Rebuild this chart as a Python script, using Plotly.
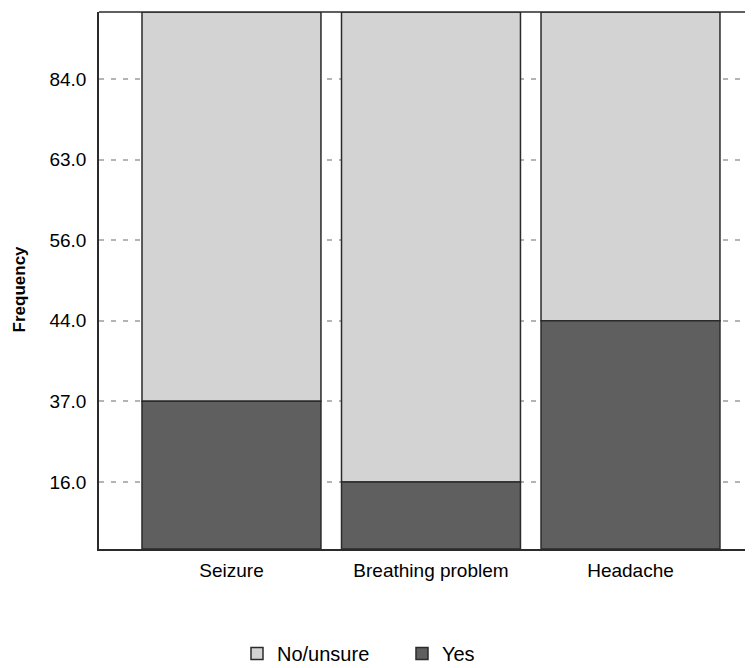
import numpy as np
import plotly.graph_objects as go

# ---- data ----
categories = ["Seizure", "Breathing problem", "Headache"]
yes_values = [37, 16, 44]
no_unsure_values = [63, 84, 56]
tick_values = [16, 37, 44, 56, 63, 84]
tick_labels = ["16.0", "37.0", "44.0", "56.0", "63.0", "84.0"]

# The reference axis is an ordinal scale: the labelled values sit at evenly
# spaced positions.  Map values to that display scale by interpolation.
n = len(tick_values)
scale_in = [0] + tick_values + [100]
scale_out = [0] + [12.5 + 15 * i for i in range(n)] + [100]


def pos(v):
    return np.interp(v, scale_in, scale_out)


yes_arr = np.array(yes_values, dtype=float)
tot_arr = yes_arr + np.array(no_unsure_values, dtype=float)
yes_h = pos(yes_arr)
no_h = pos(tot_arr) - pos(yes_arr)

FONT = "Liberation Sans, Arial, sans-serif"
outline = dict(color="#2b2b2b", width=1.5)

fig = go.Figure()
fig.add_trace(go.Bar(
    name="No/unsure", x=categories, y=no_h, base=yes_h,
    marker=dict(color="#d3d3d3", line=outline),
    customdata=no_unsure_values, hovertemplate="%{x}<br>No/unsure: %{customdata}<extra></extra>",
))
fig.add_trace(go.Bar(
    name="Yes", x=categories, y=yes_h,
    marker=dict(color="#5f5f5f", line=outline),
    customdata=yes_values, hovertemplate="%{x}<br>Yes: %{customdata}<extra></extra>",
))

# page body has an 8px margin, so the figure is 8px smaller and margins shifted
fig.update_layout(
    width=745, height=660,
    margin=dict(l=91, r=0, t=4, b=119, autoexpand=False),
    paper_bgcolor="white", plot_bgcolor="white",
    barmode="overlay", bargap=0.103,
    font=dict(family=FONT, size=19, color="black"),
    legend=dict(
        orientation="h", x=0.211, xanchor="left",
        yref="container", y=0.022, yanchor="middle",
        font=dict(size=20), traceorder="normal", itemwidth=30,
        entrywidth=120, entrywidthmode="pixels",
    ),
    showlegend=True,
)
fig.update_xaxes(
    range=[-0.664, 2.614], showline=True, linecolor="#2b2b2b", linewidth=1.5,
    ticks="", showgrid=False, ticklabelstandoff=3, fixedrange=True,
)
fig.update_yaxes(
    range=[0, 100], showline=True, linecolor="#2b2b2b", linewidth=1.5,
    tickvals=[float(pos(v)) for v in tick_values], ticktext=tick_labels,
    ticks="", showgrid=True, gridcolor="#b4b4b4", gridwidth=1.5, griddash="5px,7px",
    zeroline=False, ticklabelstandoff=7, fixedrange=True,
)
# top frame line (right edge of frame lies outside the visible window)
fig.add_shape(type="line", xref="paper", yref="paper", x0=0, x1=1, y0=1, y1=1,
              line=dict(color="#2b2b2b", width=1.5))
fig.add_annotation(
    text="<b>Frequency</b>", textangle=-90, xref="paper", yref="paper",
    x=-0.121, y=0.485, xanchor="center", yanchor="middle", showarrow=False,
    font=dict(size=17, family=FONT),
)

fig.write_html("out.html")
